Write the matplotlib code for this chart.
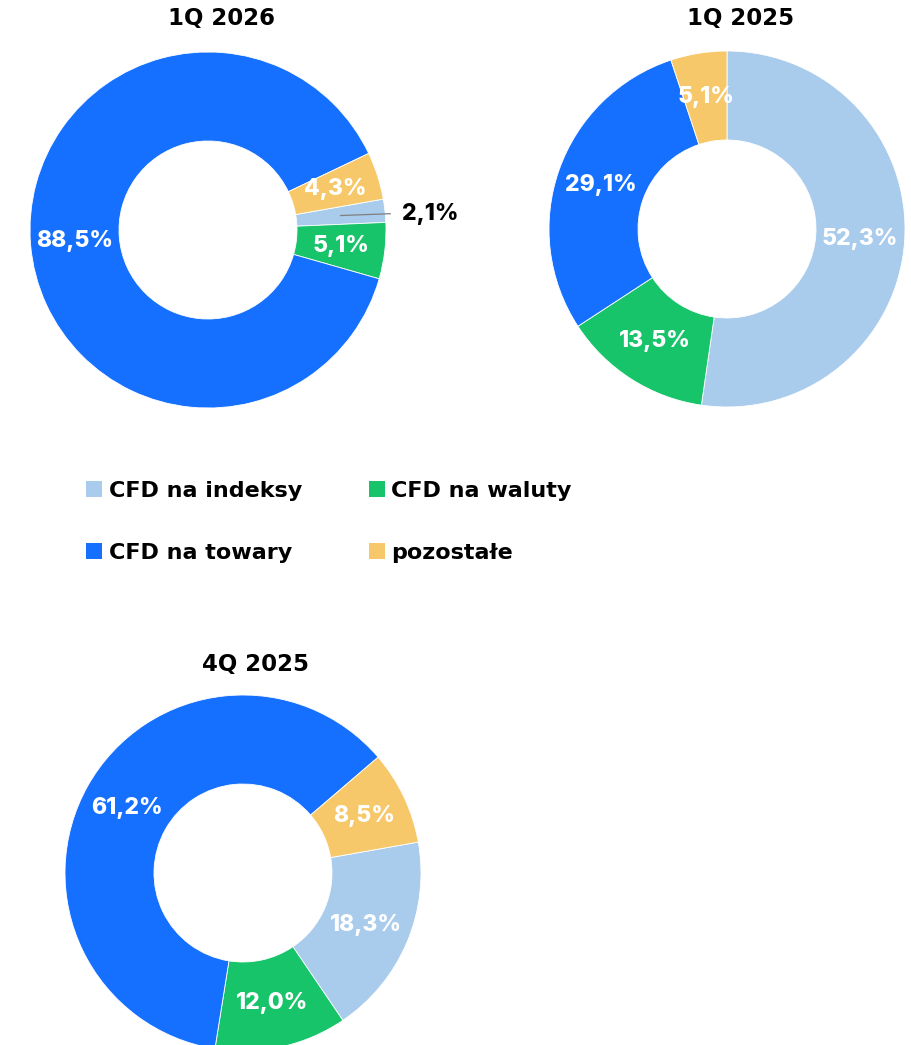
"""
Struktura przychodów wg instrumentów: trzy wykresy pierścieniowe
(1Q 2026, 1Q 2025, 4Q 2025) ze wspólną legendą.

Output:
    out.png
"""
import numpy as np
import matplotlib.pyplot as plt
from matplotlib.patches import Patch

# ── Dane ──
kategorie = ["CFD na indeksy", "CFD na waluty", "CFD na towary", "pozostałe"]
kolory = ["#A9CBEC", "#17C46A", "#1570FF", "#F7C86A"]

q1_2026 = [2.1, 5.1, 88.5, 4.3]
q1_2025 = [52.3, 13.5, 29.1, 5.1]
q4_2025 = [18.3, 12.0, 61.2, 8.5]

tytuly = ["1Q 2026", "1Q 2025", "4Q 2025"]

W, H = 912, 1045
FONT_TXT = "DejaVu Sans"
FONT_LBL = "Inter"


def fmt(v):
    return f"{v:.1f}".replace(".", ",") + "%"


def donut(fig, cx, cy, r, wartosci, start, tytul, tx, ty, zewn=()):
    """Rysuje pierścień o środku (cx, cy) i promieniu r w pikselach."""
    ax = fig.add_axes([(cx - r) / W, 1 - (cy + r) / H, 2 * r / W, 2 * r / H])
    wedges, _ = ax.pie(wartosci, colors=kolory, startangle=start,
                       counterclock=False, radius=1.0,
                       wedgeprops=dict(width=0.5, linewidth=0.6,
                                       edgecolor="white"))
    ax.set_xlim(-1, 1)
    ax.set_ylim(-1, 1)
    ax.set_aspect("equal")
    ax.axis("off")

    for i, (w, v) in enumerate(zip(wedges, wartosci)):
        ang = np.deg2rad((w.theta1 + w.theta2) / 2)
        if i in zewn:
            # mały wycinek: etykieta na zewnątrz z linią odniesienia
            x0, y0 = 0.75 * np.cos(ang), 0.75 * np.sin(ang)
            x1, y1 = 1.03 * np.cos(ang), 1.03 * np.sin(ang) - 0.02
            ax.plot([x0, x1], [y0, y1], color="#7f7f7f", lw=0.9,
                    clip_on=False)
            ax.text(1.09, y1, fmt(v), ha="left", va="center",
                    fontsize=16.5, fontweight=800, color="black",
                    family=FONT_LBL, clip_on=False)
        else:
            ax.text(0.75 * np.cos(ang), 0.75 * np.sin(ang), fmt(v),
                    ha="center", va="center", fontsize=16.5,
                    fontweight=800, color="white", family=FONT_LBL)

    fig.text(tx / W, 1 - ty / H, tytul, ha="center", va="center",
             fontsize=16.5, fontweight="bold", family=FONT_TXT)
    return wedges


def main():
    fig = plt.figure(figsize=(W / 100, H / 100), dpi=100)
    fig.patch.set_facecolor("white")

    donut(fig, 208, 230, 178, q1_2026, 10, tytuly[0], 222, 19, zewn=(0,))
    donut(fig, 727, 229, 178, q1_2025, 90, tytuly[1], 741, 19)
    donut(fig, 243, 873, 178, q4_2025, 10, tytuly[2], 256, 665)

    # legenda: wiersz 1 -> indeksy, waluty; wiersz 2 -> towary, pozostałe
    uchwyty = [Patch(facecolor=k, edgecolor="none") for k in kolory]
    kol = [0, 2, 1, 3]
    fig.legend([uchwyty[i] for i in kol], [kategorie[i] for i in kol],
               ncol=2, loc="upper left",
               bbox_to_anchor=(86 / W, 1 - 481 / H),
               frameon=False, borderpad=0, borderaxespad=0,
               handlelength=0.72, handleheight=0.72, handletextpad=0.3,
               labelspacing=1.88, columnspacing=3.0,
               prop=dict(family=FONT_TXT, weight="bold", size=16))

    fig.savefig("out.png", dpi=100)
    plt.close(fig)


if __name__ == "__main__":
    main()
